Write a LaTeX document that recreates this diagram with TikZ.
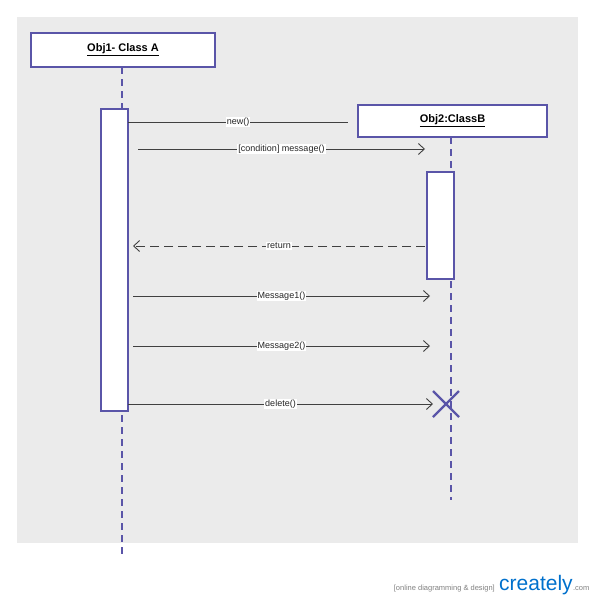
\documentclass[tikz,border=0pt]{standalone}
\usepackage{fontspec}
\setmainfont{Liberation Sans}
\usetikzlibrary{arrows.meta,calc}
\definecolor{lf}{HTML}{5A55A8}
\definecolor{bg}{HTML}{EBEBEB}
\begin{document}
\begin{tikzpicture}[x=1pt,y=-1pt,
  obj/.style={draw=lf,line width=1.6pt,fill=white,inner sep=0pt,font=\bfseries\fontsize{11}{12}\selectfont},
  act/.style={draw=lf,line width=1.6pt,fill=white},
  life/.style={draw=lf,line width=1.4pt,dash pattern=on 7pt off 5pt},
  msg/.style={draw=black!75,line width=0.9pt,-{Straight Barb[length=6pt,width=11pt]}},
  lbl/.style={fill=white,inner sep=1.2pt,font=\fontsize{9}{10}\selectfont,text=black!85}]
\useasboundingbox (0,0) rectangle (600,608);
\fill[bg] (17,17) rectangle (578,543);
\coordinate (l1t) at (122,67); \coordinate (l1b) at (122,555);
\coordinate (l2t) at (451,137); \coordinate (l2b) at (451,500);
\draw[life] (l1t) -- (l1b);
\draw[life] (l2t) -- (l2b);
\node[obj,minimum width=184pt,minimum height=34pt] (o1) at (123,50) {\underline{Obj1- Class A}};
\node[obj,minimum width=189pt,minimum height=32pt] (o2) at (452.5,121) {\underline{Obj2:ClassB}};
\node[act,minimum width=27pt,minimum height=302pt,inner sep=0pt] (a1) at (114.5,260) {};
\node[act,minimum width=27pt,minimum height=107pt,inner sep=0pt] (a2) at (440.5,225.5) {};
\coordinate (n1s) at (128,122); \coordinate (n1e) at (348,122);
\draw[draw=black!75,line width=0.9pt] (n1s) -- node[lbl]{new()} (n1e);
\coordinate (m1s) at (138,149); \coordinate (m1e) at (425,149);
\draw[msg] (m1s) -- node[lbl]{[condition] message()} (m1e);
\coordinate (r1s) at (425,246); \coordinate (r1e) at (133,246);
\draw[msg,dash pattern=on 9pt off 5pt] (r1s) -- node[lbl]{return} (r1e);
\coordinate (m2s) at (133,296); \coordinate (m2e) at (430,296);
\draw[msg] (m2s) -- node[lbl]{Message1()} (m2e);
\coordinate (m3s) at (133,346); \coordinate (m3e) at (430,346);
\draw[msg] (m3s) -- node[lbl]{Message2()} (m3e);
\coordinate (x) at (446,404);
\coordinate (d1s) at (128,404); \coordinate (d1e) at (433,404);
\draw[msg] (d1s) -- node[lbl]{delete()} (d1e);
\draw[lf,line width=2.2pt] ($(x)+(-13,-13)$) -- ($(x)+(13,13)$) ($(x)+(-13,13)$) -- ($(x)+(13,-13)$);
\node[anchor=base east,inner sep=0,font=\fontsize{7.5}{8}\selectfont,text=black!50] (w1) at (495,590) {[online diagramming \& design]};
\node[anchor=base west,inner sep=0,font=\fontsize{21}{22}\selectfont,text=blue!45!cyan!80!black] (w2) at (499,590) {creately};
\node[anchor=base west,inner sep=0,font=\fontsize{7.5}{8}\selectfont,text=black!50] (w3) at (w2.base east) {.com};
\end{tikzpicture}
\end{document}
